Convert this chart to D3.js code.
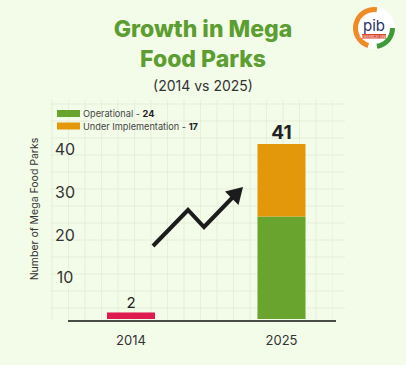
<!DOCTYPE html>
<meta charset="utf-8">
<script src="https://d3js.org/d3.v7.min.js"></script>
<style>
	body { margin: 0; background: #f3fbe9; }
	svg { display: block; font-family: Inter, "Liberation Sans", sans-serif; }
</style>
<body>
	<div id="chart"></div>
</body>
<script>
	const width = 406, height = 365;

	// data
	const years = ["2014", "2025"];
	const total2014 = [2];
	const operational = [0, 24];
	const underImpl = [0, 17];
	const yTicks = [10, 20, 30, 40];
	const legendItems = ["Operational", "Under Implementation"];
	const legendValues = [24, 17];

	const green = "#69a42e", orange = "#e3970a", red = "#df1a4f";

	const svg = d3.select("#chart").append("svg")
		.attr("width", width)
		.attr("height", height);

	svg.append("rect").attr("width", width).attr("height", height).attr("fill", "#f3fbe9");

	// faint background grid
	const grid = svg.append("g").attr("stroke", "#e0ecd3").attr("stroke-width", 0.8);
	grid.selectAll(".gv")
		.data(d3.range(52, 346, 16.5))
		.enter().append("line")
		.attr("x1", d => d).attr("x2", d => d)
		.attr("y1", 100).attr("y2", 320)
		.attr("opacity", d => d > 320 ? 0.4 : 0.85);
	grid.selectAll(".gh")
		.data(d3.range(104, 320, 17))
		.enter().append("line")
		.attr("y1", d => d).attr("y2", d => d)
		.attr("x1", 50).attr("x2", 345)
		.attr("opacity", 0.85);

	const y = d3.scaleLinear().domain([0, 41]).range([319, 144]);
	const x = d3.scalePoint().domain(years).range([131, 281.5]);
	const barW = 48;

	// title
	svg.append("text").attr("x", 203).attr("y", 37)
		.attr("text-anchor", "middle").attr("font-size", 23).attr("font-weight", 800)
		.attr("fill", "#5c9e31").text("Growth in Mega");
	svg.append("text").attr("x", 203).attr("y", 67)
		.attr("text-anchor", "middle").attr("font-size", 23).attr("font-weight", 800)
		.attr("fill", "#5c9e31").text("Food Parks");
	svg.append("text").attr("x", 203).attr("y", 91)
		.attr("text-anchor", "middle").attr("font-size", 14)
		.attr("fill", "#333").text("(2014 vs 2025)");

	// legend
	const legend = svg.append("g").attr("transform", "translate(57,110)");
	legend.selectAll("rect")
		.data(legendItems)
		.enter().append("rect")
		.attr("x", 0).attr("y", (d, i) => i * 12.5)
		.attr("width", 23).attr("height", 7)
		.attr("fill", (d, i) => i ? orange : green);
	const lt = legend.selectAll("text")
		.data(legendItems)
		.enter().append("text")
		.attr("x", 26).attr("y", (d, i) => i * 12.5 + 7)
		.attr("font-size", 9.2).attr("fill", "#444");
	lt.append("tspan").text(d => d + " - ");
	lt.append("tspan").attr("font-weight", 700).attr("fill", "#222").text((d, i) => legendValues[i]);

	// y axis label
	svg.append("text")
		.attr("transform", "translate(38,209) rotate(-90)")
		.attr("text-anchor", "middle").attr("font-size", 10.5).attr("fill", "#333")
		.text("Number of Mega Food Parks");

	// y tick labels
	svg.selectAll(".ytick")
		.data(yTicks)
		.enter().append("text")
		.attr("x", 65).attr("y", d => y(d) + 7)
		.attr("text-anchor", "middle").attr("font-size", 16).attr("fill", "#333")
		.text(d => d);

	// bars
	svg.append("rect")
		.attr("x", x("2014") - barW / 2).attr("y", y(total2014[0]) + 2)
		.attr("width", barW).attr("height", y(0) - y(total2014[0]) - 2)
		.attr("fill", red);
	svg.selectAll(".op")
		.data(years.filter((d, i) => operational[i] > 0))
		.enter().append("rect")
		.attr("x", d => x(d) - barW / 2)
		.attr("y", d => y(operational[years.indexOf(d)]))
		.attr("width", barW)
		.attr("height", d => y(0) - y(operational[years.indexOf(d)]))
		.attr("fill", green);
	svg.selectAll(".ui")
		.data(years.filter((d, i) => underImpl[i] > 0))
		.enter().append("rect")
		.attr("x", d => x(d) - barW / 2)
		.attr("y", d => { const i = years.indexOf(d); return y(operational[i] + underImpl[i]); })
		.attr("width", barW)
		.attr("height", d => { const i = years.indexOf(d); return y(operational[i]) - y(operational[i] + underImpl[i]); })
		.attr("fill", orange);

	// value labels
	svg.append("text").attr("x", x("2014")).attr("y", 308)
		.attr("text-anchor", "middle").attr("font-size", 15).attr("fill", "#222")
		.text(total2014[0]);
	svg.append("text").attr("x", x("2025")).attr("y", 139)
		.attr("text-anchor", "middle").attr("font-size", 19).attr("font-weight", 700).attr("fill", "#222")
		.text(operational[1] + underImpl[1]);

	// baseline
	svg.append("line").attr("x1", 68).attr("x2", 336).attr("y1", 321).attr("y2", 321)
		.attr("stroke", "#111").attr("stroke-width", 1.5);

	// x labels
	svg.selectAll(".xl")
		.data(years)
		.enter().append("text")
		.attr("x", d => x(d)).attr("y", 345)
		.attr("text-anchor", "middle").attr("font-size", 13).attr("fill", "#333")
		.text(d => d);

	// growth arrow
	svg.append("path")
		.attr("d", d3.line()([[153, 246], [188, 210], [204, 227], [233, 197]]))
		.attr("fill", "none").attr("stroke", "#1c1c1c").attr("stroke-width", 4)
		.attr("stroke-linejoin", "miter");
	svg.append("path")
		.attr("d", d3.line()([[243, 187], [238.5, 205], [225, 191.5]]) + "Z")
		.attr("fill", "#1c1c1c");

	// logo
	const logo = svg.append("g").attr("transform", "translate(374,28)");
	logo.append("circle").attr("r", 21).attr("fill", "#fff");
	logo.append("path").attr("d", d3.arc()({innerRadius: 16, outerRadius: 21, startAngle: -Math.PI * 0.9, endAngle: Math.PI * 0.05}))
		.attr("fill", "#f08a24");
	logo.append("path").attr("d", d3.arc()({innerRadius: 16, outerRadius: 21, startAngle: Math.PI * 0.5, endAngle: Math.PI * 0.95}))
		.attr("fill", "#3f9b3a");
	logo.append("text").attr("y", 3).attr("text-anchor", "middle")
		.attr("font-size", 15).attr("font-weight", 400).attr("fill", "#26336b").text("pib");
	logo.append("rect").attr("x", -12).attr("y", 6).attr("width", 24).attr("height", 4.5).attr("fill", "#d9452b");
	logo.append("text").attr("y", 9.6).attr("text-anchor", "middle")
		.attr("font-size", 3.6).attr("fill", "#fff").text("RESEARCH UNIT");
</script>
